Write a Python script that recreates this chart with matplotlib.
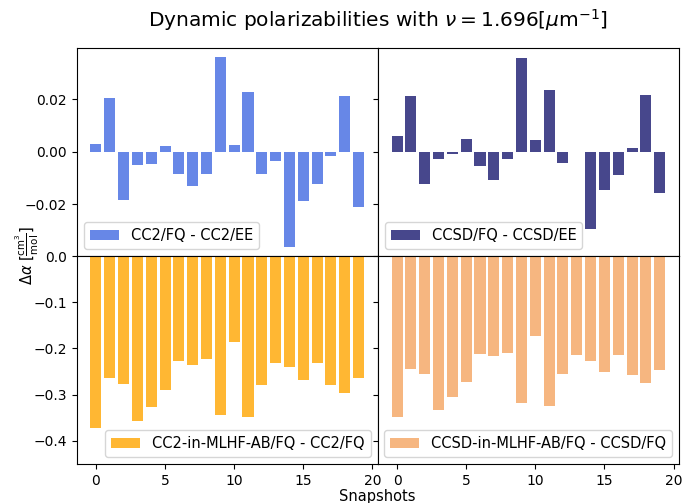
import matplotlib
matplotlib.use('Agg')
import matplotlib.pyplot as plt
import numpy as np

plt.rcParams['font.size'] = 10.5
plt.rcParams['xtick.labelsize'] = 10
plt.rcParams['ytick.labelsize'] = 10

# snapshots and polarizability differences
snapshots = np.arange(20)

cc2_fq_ee = [0.0028, 0.0203, -0.0183, -0.0051, -0.0048, 0.0020, -0.0083, -0.0130,
             -0.0083, 0.0359, 0.0024, 0.0227, -0.0083, -0.0035, -0.0361, -0.0187,
             -0.0123, -0.0016, 0.0211, -0.0209]
ccsd_fq_ee = [0.0060, 0.0211, -0.0123, -0.0028, -0.0008, 0.0048, -0.0055, -0.0107,
              -0.0026, 0.0355, 0.0044, 0.0234, -0.0044, 0.0, -0.0293, -0.0147,
              -0.0087, 0.0013, 0.0216, -0.0158]
cc2_mlhf = [-0.3726, -0.2650, -0.2765, -0.3567, -0.3264, -0.2903, -0.2282, -0.2354,
            -0.2238, -0.3430, -0.1870, -0.3473, -0.2787, -0.2310, -0.2397, -0.2693,
            -0.2310, -0.2787, -0.2968, -0.2650]
ccsd_mlhf = [-0.3487, -0.2440, -0.2556, -0.3336, -0.3040, -0.2722, -0.2123, -0.2173,
             -0.2101, -0.3177, -0.1733, -0.3242, -0.2556, -0.2144, -0.2282, -0.2513,
             -0.2144, -0.2585, -0.2744, -0.2462]

labels = ['CC2/FQ - CC2/EE', 'CCSD/FQ - CCSD/EE',
          'CC2-in-MLHF-AB/FQ - CC2/FQ', 'CCSD-in-MLHF-AB/FQ - CCSD/FQ']
colors = ['royalblue', 'midnightblue', 'orange', 'sandybrown']

fig, axs = plt.subplots(2, 2, sharex=True, sharey='row', figsize=(6.83, 5.03), dpi=100)
fig.subplots_adjust(left=0.1123, right=0.9941, top=0.9046, bottom=0.0775,
                    hspace=0, wspace=0)

series = [cc2_fq_ee, ccsd_fq_ee, cc2_mlhf, ccsd_mlhf]
locs = ['lower left', 'lower left', 'lower right', 'lower right']
for ax, y, lab, c, loc in zip(axs.flat, series, labels, colors, locs):
    ax.bar(snapshots, y, color=c, alpha=0.8, label=lab)
    ax.legend(loc=loc)

axs[1, 0].set_ylim(-0.45, 0.0)
axs[1, 0].set_xticks([0, 5, 10, 15, 20])

fig.suptitle(r'Dynamic polarizabilities with $\nu = 1.696[\mu \mathrm{m}^{-1}]$',
             fontsize=14.5, x=0.553, y=0.985)
fig.text(0.553, -0.002, 'Snapshots', ha='center', va='bottom')
fig.text(0.040, 0.4911, r'$\Delta\alpha$ $[\frac{\mathrm{cm}^3}{\mathrm{mol}}]$',
         rotation=90, ha='center', va='center')

fig.savefig('out.png', dpi=100)
